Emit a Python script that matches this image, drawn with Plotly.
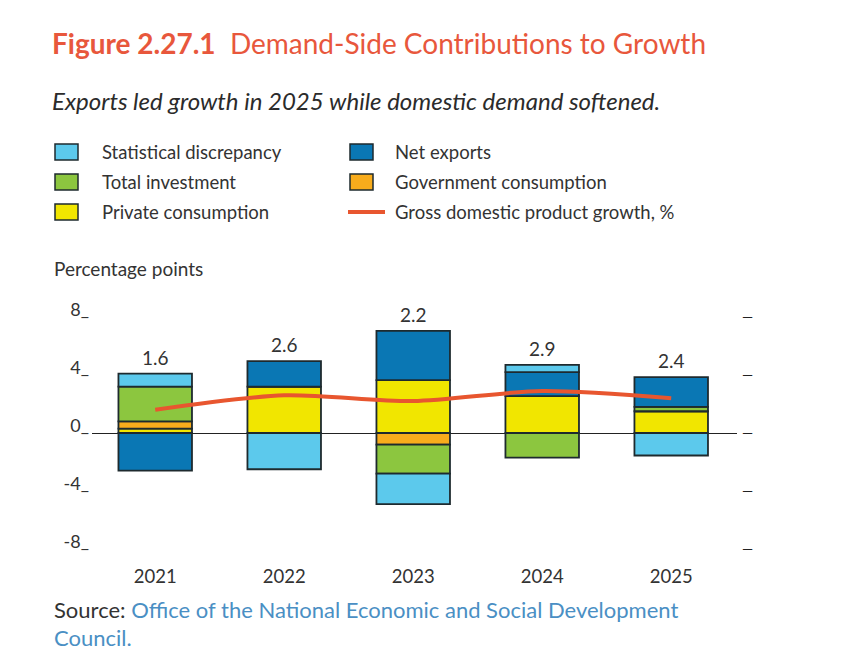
import plotly.graph_objects as go

# Data (percentage points)
years = ["2021", "2022", "2023", "2024", "2025"]
private_consumption = [0.3, 3.2, 3.65, 2.55, 1.5]
government_consumption = [0.5, 0.0, -0.8, 0.0, 0.0]
total_investment = [2.4, 0.0, -2.0, -1.7, 0.3]
net_exports = [-2.6, 1.75, 3.4, 1.65, 2.05]
statistical_discrepancy = [0.9, -2.5, -2.1, 0.5, -1.55]
gdp_growth = [1.6, 2.6, 2.2, 2.9, 2.4]

y_ticks = [-8, -4, 0, 4, 8]
y_ticktext = ["-8_", "-4_", "0_", "4_", "8_"]

C_LIGHT = "#5CC9EC"
C_DARK = "#0A77B4"
C_GREEN = "#8CC63F"
C_ORANGE = "#F8AC1C"
C_YELLOW = "#F1E600"
C_RED = "#E8562F"
OUTLINE = "#1E2A2E"
TEXT = "#333333"
FONT = "Lato"

# the page adds an 8px body margin, so target pixel positions are shifted back
OFF = 8
W, H = 860, 672
L, R, T, B = 92 - OFF, 737 - OFF, 317 - OFF, 549 - OFF


def px(x):
    return (x - OFF - L) / (R - L)


def py(y):
    return (B - (y - OFF)) / (B - T)


series = [
    ("Private consumption", private_consumption, C_YELLOW),
    ("Government consumption", government_consumption, C_ORANGE),
    ("Total investment", total_investment, C_GREEN),
    ("Net exports", net_exports, C_DARK),
    ("Statistical discrepancy", statistical_discrepancy, C_LIGHT),
]

fig = go.Figure()
for name, vals, col in series:
    fig.add_trace(
        go.Bar(
            x=years,
            y=vals,
            name=name,
            width=0.57,
            marker=dict(color=col, line=dict(color=OUTLINE, width=1.8)),
            showlegend=False,
        )
    )

fig.add_trace(
    go.Scatter(
        x=years,
        y=gdp_growth,
        mode="lines",
        line=dict(color=C_RED, width=4, shape="spline", smoothing=0.8),
        name="Gross domestic product growth, %",
        showlegend=False,
    )
)

# invisible trace to carry the right-hand tick marks
fig.add_trace(
    go.Scatter(x=years, y=gdp_growth, yaxis="y2", mode="lines",
               line=dict(width=0), opacity=0, showlegend=False, hoverinfo="skip")
)

annotations = []
# growth labels above each bar (x is the category index on the category axis)
for i, yr in enumerate(years):
    top = sum(vals[i] for _, vals, _ in series if vals[i] > 0)
    annotations.append(dict(
        x=i, y=top, xref="x", yref="y", text=f"{gdp_growth[i]:.1f}", showarrow=False,
        yanchor="bottom", yshift=3, font=dict(family=FONT, size=19, color=TEXT),
    ))

# title, subtitle, axis caption, source
annotations += [
    dict(x=px(50), y=py(43), xref="paper", yref="paper", xanchor="left", yanchor="middle",
         showarrow=False,
         text="<b>Figure 2.27.1</b>  Demand-Side Contributions to Growth",
         font=dict(family=FONT, size=28, color="#E8573C")),
    dict(x=px(50), y=py(100), xref="paper", yref="paper", xanchor="left", yanchor="middle",
         showarrow=False,
         text="<i>Exports led growth in 2025 while domestic demand softened.</i>",
         font=dict(family=FONT, size=24, color="#2B2B2B")),
    dict(x=px(52), y=py(268), xref="paper", yref="paper", xanchor="left", yanchor="middle",
         showarrow=False, text="Percentage points",
         font=dict(family=FONT, size=19, color=TEXT)),
    dict(x=px(52), y=py(609), xref="paper", yref="paper", xanchor="left", yanchor="middle",
         showarrow=False,
         text="Source: <span style='color:#4A8FC4'>Office of the National Economic and Social Development</span>",
         font=dict(family=FONT, size=22, color=TEXT)),
    dict(x=px(52), y=py(637), xref="paper", yref="paper", xanchor="left", yanchor="middle",
         showarrow=False, text="Council.",
         font=dict(family=FONT, size=22, color="#4A8FC4")),
]

# manual legend (two columns)
shapes = []
legend_rows = [
    (55, 100, 152, "Statistical discrepancy", C_LIGHT),
    (55, 100, 182, "Total investment", C_GREEN),
    (55, 100, 212, "Private consumption", C_YELLOW),
    (350, 393, 152, "Net exports", C_DARK),
    (350, 393, 182, "Government consumption", C_ORANGE),
]
for sx, tx, cy, label, col in legend_rows:
    shapes.append(dict(type="rect", xref="paper", yref="paper",
                       x0=px(sx), x1=px(sx + 23), y0=py(cy + 8), y1=py(cy - 8),
                       fillcolor=col, line=dict(color=OUTLINE, width=1.5)))
    annotations.append(dict(x=px(tx), y=py(cy), xref="paper", yref="paper",
                            xanchor="left", yanchor="middle", showarrow=False, text=label,
                            font=dict(family=FONT, size=18.5, color=TEXT)))
shapes.append(dict(type="line", xref="paper", yref="paper",
                   x0=px(348), x1=px(385), y0=py(212), y1=py(212),
                   line=dict(color=C_RED, width=4)))
annotations.append(dict(x=px(393), y=py(212), xref="paper", yref="paper",
                        xanchor="left", yanchor="middle", showarrow=False,
                        text="Gross domestic product growth, %",
                        font=dict(family=FONT, size=18.5, color=TEXT)))

fig.update_layout(
    width=W,
    height=H,
    barmode="relative",
    bargap=0.43,
    paper_bgcolor="white",
    plot_bgcolor="white",
    margin=dict(l=L, r=W - R, t=T, b=H - B),
    font=dict(family=FONT, color=TEXT),
    showlegend=False,
    xaxis=dict(
        type="category",
        range=[-0.49, 4.51],
        showgrid=False,
        showline=False,
        ticks="",
        tickfont=dict(family=FONT, size=18.5, color=TEXT),
        ticklabelstandoff=14,
    ),
    yaxis=dict(
        range=[-8, 8],
        tickvals=y_ticks,
        ticktext=y_ticktext,
        showgrid=False,
        showline=False,
        zeroline=True,
        zerolinecolor="#222222",
        zerolinewidth=1.3,
        tickfont=dict(family=FONT, size=18, color=TEXT),
        ticklabelshift=-7,
        ticklabelstandoff=2,
    ),
    yaxis2=dict(
        range=[-8, 8],
        overlaying="y",
        side="right",
        tickvals=y_ticks,
        ticktext=["—"] * len(y_ticks),
        showgrid=False,
        showline=False,
        zeroline=False,
        tickfont=dict(family=FONT, size=14, color="#222222"),
        ticklabelstandoff=4,
    ),
    annotations=annotations,
    shapes=shapes,
)

fig.write_html("out.html")
